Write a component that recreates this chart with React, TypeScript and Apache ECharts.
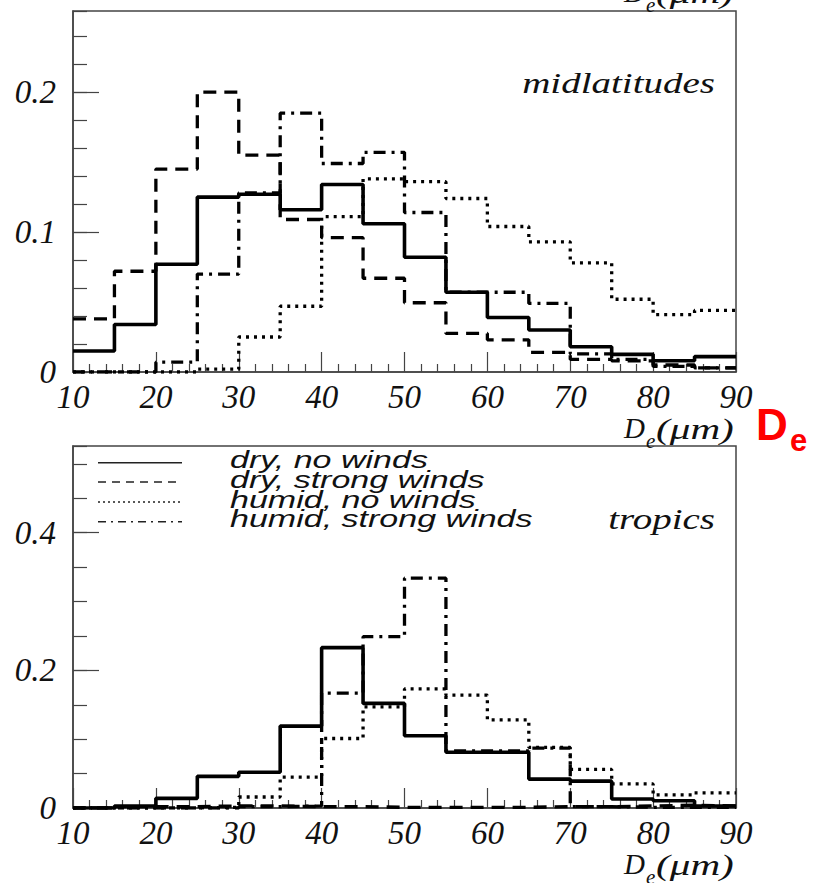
import React, { useEffect, useRef } from "react";
import * as echarts from "echarts";

// ---- data ----
const binStarts = [10, 15, 20, 25, 30, 35, 40, 45, 50, 55, 60, 65, 70, 75, 80, 85];
const binEnd = 90;
const xTickLabels = ["10", "20", "30", "40", "50", "60", "70", "80", "90"];

const seriesNames = ["dry, no winds", "dry, strong winds", "humid, no winds", "humid, strong winds"];

// midlatitudes panel
const midDryNoWinds = [0.015, 0.034, 0.077, 0.125, 0.127, 0.116, 0.134, 0.106, 0.082, 0.057, 0.039, 0.030, 0.018, 0.0126, 0.008, 0.011];
const midDryStrongWinds = [0.038, 0.072, 0.145, 0.2, 0.155, 0.109, 0.096, 0.067, 0.0495, 0.0276, 0.023, 0.014, 0.009, 0.008, 0.005, 0.003];
const midHumidNoWinds = [0, 0, 0, 0.002, 0.025, 0.047, 0.111, 0.138, 0.136, 0.124, 0.104, 0.093, 0.078, 0.052, 0.041, 0.044];
const midHumidStrongWinds = [0, 0, 0.007, 0.07, 0.128, 0.185, 0.149, 0.157, 0.114, 0.057, 0.057, 0.049, 0.013, 0.009, 0.004, 0.003];

// tropics panel
const tropDryNoWinds = [0, 0.003, 0.014, 0.046, 0.052, 0.119, 0.233, 0.152, 0.105, 0.081, 0.081, 0.042, 0.039, 0.013, 0.0106, 0.003];
const tropDryStrongWinds = [0, 0.002, 0.002, 0.003, 0.003, 0.002, 0.002, 0.001, 0.001, 0.001, 0.001, 0.002, 0.002, 0.003, 0.004, 0.003];
const tropHumidNoWinds = [0, 0, 0, 0.001, 0.016, 0.045, 0.101, 0.147, 0.173, 0.164, 0.128, 0.088, 0.056, 0.035, 0.019, 0.022];
const tropHumidStrongWinds = [0, 0, 0, 0, 0.002, 0.003, 0.167, 0.249, 0.334, 0.083, 0.083, 0.087, 0.002, 0.001, 0.001, 0.001];

const midYMax = 0.258;
const tropYMax = 0.526;

const panelTitles = ["midlatitudes", "tropics"];
const xAxisName = ["D", "e", "(μm)"];

// ---- styles ----
const SERIF = "'Liberation Serif', 'Times New Roman', serif";
const SANS = "'Liberation Sans', Arial, sans-serif";
const lineTypes: any[] = ["solid", [13, 8], [3, 5], [12, 6, 3, 6]];
const legendTypes: any[] = ["solid", [8, 6], [2, 3], [8, 5, 2, 5]];

function histData(vals: number[]) {
  const d = binStarts.map((x, i) => [x, vals[i]]);
  d.push([binEnd, vals[vals.length - 1]]);
  return d;
}

export default function App() {
  const ref = useRef<HTMLDivElement>(null);
  useEffect(() => {
    if (!ref.current) return;
    const chart = echarts.init(ref.current, null, { renderer: "svg" });

    const grids = [
      { left: 73, top: 11, width: 663, height: 361 },
      { left: 73, top: 446, width: 663, height: 362 },
    ];
    const frame = "#444";

    const xAxes = grids.map((_, gi) => ({
      type: "value",
      gridIndex: gi,
      min: 10,
      max: 90,
      interval: 10,
      axisLine: { show: true, lineStyle: { color: frame, width: 1.5 } },
      axisTick: { show: true, inside: true, length: 20, lineStyle: { color: frame, width: 1.2 } },
      minorTick: { show: true, splitNumber: 5, length: 8, lineStyle: { color: frame, width: 1.2 } },
      splitLine: { show: false },
      minorSplitLine: { show: false },
      axisLabel: {
        show: true,
        margin: 8,
        fontFamily: SERIF,
        fontStyle: "italic",
        fontSize: 33,
        color: "#111",
        formatter: (v: number) => (xTickLabels.indexOf(String(v)) >= 0 ? String(v) : ""),
      },
    }));

    const yMaxes = [midYMax, tropYMax];
    const majorIntervals = [0.1, 0.2];
    const minorIntervals = [0.02, 0.05];
    const yAxes: any[] = [];
    grids.forEach((_, gi) => {
      yAxes.push({
        type: "value",
        gridIndex: gi,
        position: "left",
        min: 0,
        max: yMaxes[gi],
        interval: majorIntervals[gi],
        axisLine: { show: true, lineStyle: { color: frame, width: 1.5 } },
        axisTick: { show: true, inside: true, length: 26, lineStyle: { color: frame, width: 1.2 } },
        splitLine: { show: false },
        axisLabel: {
          show: true,
          margin: 17,
          showMaxLabel: false,
          fontFamily: SERIF,
          fontStyle: "italic",
          fontSize: 33,
          color: "#111",
          formatter: (v: number) => (v === 0 ? "0" : String(Math.round(v * 10) / 10)),
        },
      });
      yAxes.push({
        type: "value",
        gridIndex: gi,
        position: "left",
        min: 0,
        max: yMaxes[gi],
        interval: minorIntervals[gi],
        axisLine: { show: false },
        axisTick: { show: true, inside: true, length: 14, lineStyle: { color: frame, width: 1.2 } },
        splitLine: { show: false },
        axisLabel: { show: false },
      });
    });

    const panels = [
      [midDryNoWinds, midDryStrongWinds, midHumidNoWinds, midHumidStrongWinds],
      [tropDryNoWinds, tropDryStrongWinds, tropHumidNoWinds, tropHumidStrongWinds],
    ];
    const series: any[] = [];
    panels.forEach((sets, gi) => {
      sets.forEach((vals, si) => {
        series.push({
          type: "line",
          name: seriesNames[si] + (gi === 0 ? " (mid)" : " (trop)"),
          xAxisIndex: gi,
          yAxisIndex: gi * 2,
          step: "end",
          symbol: "none",
          data: histData(vals),
          lineStyle: { color: "#000", width: si === 0 ? 3.6 : 3.3, type: lineTypes[si] },
          z: 10 - si,
        });
      });
    });

    const axisNameGroup = (dy: number, keyPrefix: string) => [
      { type: "text", id: keyPrefix + "D", x: 624, y: 428 + dy, style: { text: xAxisName[0], font: `italic 29px ${SERIF}`, fill: "#111", verticalAlign: "middle" } },
      { type: "text", id: keyPrefix + "e", x: 646, y: 441 + dy, style: { text: xAxisName[1], font: `italic 21px ${SERIF}`, fill: "#111", verticalAlign: "middle" } },
      { type: "text", id: keyPrefix + "u", x: 656, y: 429 + dy, scaleX: 1.42, style: { text: xAxisName[2], font: `italic 29px ${SERIF}`, fill: "#111", verticalAlign: "middle" } },
    ];

    const legendRows = [462.7, 482, 502, 521.7];
    const legendTextY = [460, 480, 500, 519.5];
    const graphic: any[] = [
      ...axisNameGroup(-436, "c"),
      ...axisNameGroup(0, "t"),
      ...axisNameGroup(436, "b"),
      { type: "text", x: 756, y: 424, style: { text: "D", font: `bold 44px ${SANS}`, fill: "#f00", verticalAlign: "middle" } },
      { type: "text", x: 790, y: 440, style: { text: "e", font: `bold 31px ${SANS}`, fill: "#f00", verticalAlign: "middle" } },
      { type: "text", x: 715, y: 83, scaleX: 1.3, style: { text: panelTitles[0], font: `italic 30px ${SERIF}`, fill: "#111", align: "right", verticalAlign: "middle" } },
      { type: "text", x: 715, y: 519, scaleX: 1.3, style: { text: panelTitles[1], font: `italic 30px ${SERIF}`, fill: "#111", align: "right", verticalAlign: "middle" } },
    ];
    seriesNames.forEach((n, i) => {
      graphic.push({
        type: "line",
        shape: { x1: 98, y1: legendRows[i], x2: 182, y2: legendRows[i] },
        style: { stroke: "#222", lineWidth: 1.4, lineDash: legendTypes[i] === "solid" ? null : legendTypes[i] },
      });
      graphic.push({
        type: "text",
        x: 230,
        y: legendTextY[i],
        scaleX: 1.48,
        style: { text: n, font: `italic 23px ${SANS}`, fill: "#111", verticalAlign: "middle" },
      });
    });

    chart.setOption({
      animation: false,
      backgroundColor: "#fff",
      grid: grids.map((g) => ({ ...g, show: true, borderColor: frame, borderWidth: 1.5, backgroundColor: "transparent" })),
      xAxis: xAxes,
      yAxis: yAxes,
      series,
      graphic,
    });
    return () => chart.dispose();
  }, []);
  return <div ref={ref} style={{ position: "fixed", left: 0, top: 0, width: 815, height: 883 }} />;
}
